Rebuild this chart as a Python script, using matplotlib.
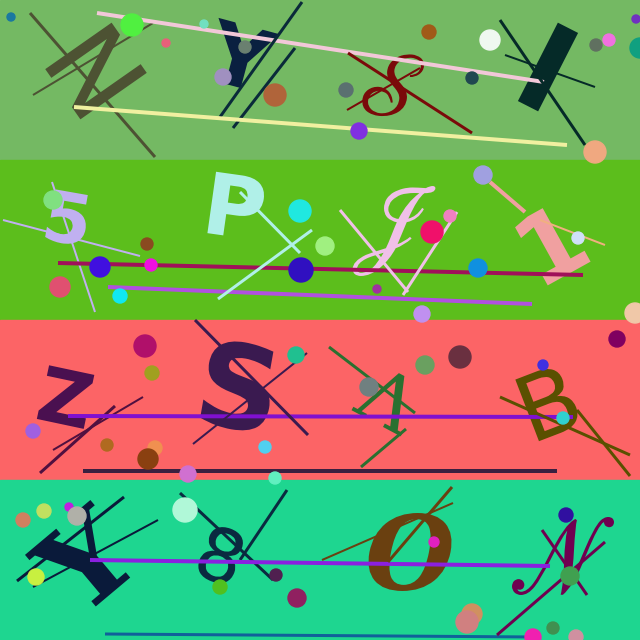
import matplotlib
matplotlib.use('Agg')
import matplotlib.pyplot as plt
from matplotlib.patches import Circle, Rectangle, PathPatch
from matplotlib.textpath import TextPath
from matplotlib.font_manager import FontProperties
from matplotlib.transforms import Affine2D

plt.rcParams['mathtext.fontset'] = 'stix'

# band backgrounds (top to bottom)
band_colors = ['#74b963', '#5cbe1c', '#fc6466', '#1ed690']
band_height = 160

# glyphs: char, centre x, centre y, ink height(px), rotation(deg ccw), color, family, weight, style
glyphs = [
    ('N', 96, 71, 81, -55, '#4d5233', 'DejaVu Sans', 'normal', 'normal'),
    ('Y', 241, 56, 62, -15, '#0a2040', 'DejaVu Sans', 'bold', 'normal'),
    (r'$\mathscr{S}$', 393, 85, 64, -5, '#7a0a0a', 'DejaVu Sans', 'normal', 'normal'),
    ('I', 548, 67, 88, -27, '#052a28', 'DejaVu Sans', 'bold', 'normal'),
    ('5', 68, 218, 52, -10, '#c0b0f0', 'DejaVu Sans', 'bold', 'normal'),
    ('P', 237, 206, 62, -8, '#b0f0e8', 'DejaVu Sans', 'bold', 'normal'),
    (r'$\mathscr{J}$', 394, 231, 90, 0, '#f0c0e8', 'DejaVu Sans', 'normal', 'normal'),
    ('1', 552, 243, 70, 29, '#f0a0a0', 'DejaVu Sans', 'bold', 'normal'),
    ('Z', 66, 397, 55, -12, '#4a1050', 'DejaVu Sans', 'bold', 'normal'),
    ('S', 239, 386, 88, -10, '#3a1a50', 'DejaVu Sans', 'bold', 'normal'),
    ('Λ', 389, 399, 55, -28, '#2a7030', 'DejaVu Serif', 'normal', 'normal'),
    ('B', 549, 402, 66, 21, '#5a5000', 'DejaVu Sans', 'normal', 'normal'),
    ('Y', 85, 560, 85, 40, '#0a1a3a', 'DejaVu Serif', 'bold', 'normal'),
    ('8', 221, 555, 56, -20, '#0a2a40', 'DejaVu Sans', 'normal', 'normal'),
    ('O', 410, 552, 78, 0, '#6a4010', 'DejaVu Serif', 'bold', 'italic'),
    (r'$\mathscr{N}$', 563, 556, 78, 0, '#700050', 'DejaVu Sans', 'normal', 'normal'),
]

# lines: x0, y0, x1, y1, width(px), color
lines = [
    (30, 13, 155, 157, 3, '#4d5233'),
    (33, 95, 153, 23, 2, '#4d5233'),
    (97, 13, 544, 82, 4, '#f2c8d8'),
    (220, 117, 302, 2, 3, '#0a2a3a'),
    (233, 128, 295, 48, 3, '#0a2a3a'),
    (74, 107, 567, 145, 4, '#f0f0a0'),
    (348, 53, 472, 133, 3, '#7a0a0a'),
    (347, 110, 420, 68, 2, '#7a0a0a'),
    (500, 20, 585, 145, 3, '#052a28'),
    (505, 55, 595, 87, 2, '#052a28'),
    (52, 182, 95, 312, 2, '#c0b0f0'),
    (3, 220, 140, 256, 2, '#c0b0f0'),
    (58, 263, 583, 275, 4, '#a0105a'),
    (108, 287, 532, 304, 4, '#b050e0'),
    (240, 192, 300, 253, 3, '#b0f0e8'),
    (218, 299, 312, 230, 3, '#b0f0e8'),
    (340, 210, 408, 292, 3, '#f0c0e8'),
    (403, 295, 457, 212, 3, '#f0c0e8'),
    (490, 182, 525, 212, 4, '#f0a0a0'),
    (540, 220, 605, 245, 2, '#f0b080'),
    (40, 473, 115, 406, 3, '#501040'),
    (53, 450, 143, 397, 2, '#501040'),
    (68, 416, 573, 417, 4, '#8010d0'),
    (83, 471, 557, 471, 4, '#3a2040'),
    (195, 320, 308, 435, 3, '#3a1a50'),
    (193, 444, 307, 353, 2, '#3a1a50'),
    (329, 347, 415, 413, 3, '#2a7030'),
    (361, 467, 406, 429, 3, '#2a7030'),
    (500, 397, 630, 455, 3, '#5a5000'),
    (577, 410, 630, 476, 3, '#5a5000'),
    (17, 581, 124, 497, 3, '#0a1a3a'),
    (33, 587, 158, 520, 2, '#0a1a3a'),
    (180, 493, 273, 580, 3, '#0a2a40'),
    (240, 560, 287, 490, 3, '#0a2a40'),
    (90, 560, 550, 566, 4, '#8a20e0'),
    (105, 634, 535, 637, 3, '#10609a'),
    (322, 560, 453, 503, 2, '#6a4010'),
    (388, 562, 452, 487, 3, '#6a4010'),
    (542, 530, 587, 595, 3, '#700050'),
    (497, 635, 605, 542, 3, '#700050'),
]

# dots: x, y, radius(px), color
dots = [
    (11, 17, 4, '#1a78a0'), (132, 25, 11, '#50f040'), (166, 43, 4, '#e8607a'),
    (204, 24, 4, '#70e0c0'), (245, 47, 6, '#6a8070'), (223, 77, 8, '#a090c0'),
    (275, 95, 11, '#b0643a'), (429, 32, 7, '#a05a18'), (346, 90, 7, '#5a7070'),
    (472, 78, 6, '#204850'), (490, 40, 10, '#f0f8f0'), (359, 131, 8, '#8030e0'),
    (596, 45, 6, '#607060'), (609, 40, 6, '#f070e0'), (636, 19, 4, '#7030c0'),
    (640, 48, 10, '#10a080'), (595, 152, 11, '#f0a880'),
    (53, 200, 9, '#80e080'), (147, 244, 6, '#8a4a20'), (100, 267, 10, '#4010e0'),
    (151, 265, 6, '#f010e0'), (60, 287, 10, '#e05070'), (120, 296, 7, '#10e8f0'),
    (300, 211, 11, '#20e8e0'), (325, 246, 9, '#a0f080'), (301, 270, 12, '#3010c0'),
    (432, 232, 11, '#f0106a'), (450, 216, 6, '#f080c0'), (377, 289, 4, '#a030a0'),
    (478, 268, 9, '#1090e0'), (483, 175, 9, '#a0a0e0'), (422, 314, 8, '#c090f0'),
    (578, 238, 6, '#d0e0f8'), (635, 313, 10, '#f0c8a8'),
    (145, 346, 11, '#b0106a'), (152, 373, 7, '#a0a020'), (33, 431, 7, '#a060e0'),
    (107, 445, 6, '#b06a20'), (155, 448, 7, '#f09050'), (148, 459, 10, '#8a4010'),
    (188, 474, 8, '#d070d0'), (275, 478, 6, '#60f0c0'), (296, 355, 8, '#20c090'),
    (265, 447, 6, '#50d0f0'), (369, 387, 9, '#708080'), (425, 365, 9, '#6aa060'),
    (460, 357, 11, '#6a3040'), (543, 365, 5, '#4030e0'), (563, 418, 6, '#30d0d0'),
    (617, 339, 8, '#800060'),
    (23, 520, 7, '#d08060'), (44, 511, 7, '#c0e060'), (69, 507, 4, '#c020e0'),
    (77, 516, 9, '#b0b0a8'), (36, 577, 8, '#c8f040'), (185, 510, 12, '#b0f8d8'),
    (220, 587, 7, '#50c020'), (276, 575, 6, '#502050'), (297, 598, 9, '#902060'),
    (434, 542, 5, '#e020c0'), (566, 515, 7, '#3010a0'), (570, 576, 9, '#40a050'),
    (553, 628, 6, '#409050'), (472, 614, 10, '#d09060'), (467, 622, 11, '#d08080'),
    (533, 637, 8, '#f020b0'), (576, 637, 7, '#d090a0'),
]

fig = plt.figure(figsize=(6.4, 6.4), dpi=100)
ax = fig.add_axes([0, 0, 1, 1])
ax.set_xlim(0, 640)
ax.set_ylim(640, 0)
ax.axis('off')

px = 72 / 100  # points per pixel

for i, c in enumerate(band_colors):
    ax.add_patch(Rectangle((0, i * band_height), 640, band_height, color=c, zorder=0))

# glyphs as outlines, centred on their ink box
for ch, x, y, h, rot, col, fam, wt, st in glyphs:
    tp = TextPath((0, 0), ch, size=1, prop=FontProperties(family=fam, weight=wt, style=st))
    ext = tp.get_extents()
    s = h / ext.height
    tr = (Affine2D().translate(-(ext.x0 + ext.x1) / 2, -(ext.y0 + ext.y1) / 2)
          .scale(s, -s).rotate_deg(-rot).translate(x, y))
    ax.add_patch(PathPatch(tr.transform_path(tp), facecolor=col, edgecolor='none', zorder=2))

for x0, y0, x1, y1, w, col in lines:
    ax.plot([x0, x1], [y0, y1], color=col, lw=w * px, solid_capstyle='butt', zorder=3)

for x, y, r, col in dots:
    ax.add_patch(Circle((x, y), r, color=col, zorder=4))

fig.savefig('out.png', dpi=100)
